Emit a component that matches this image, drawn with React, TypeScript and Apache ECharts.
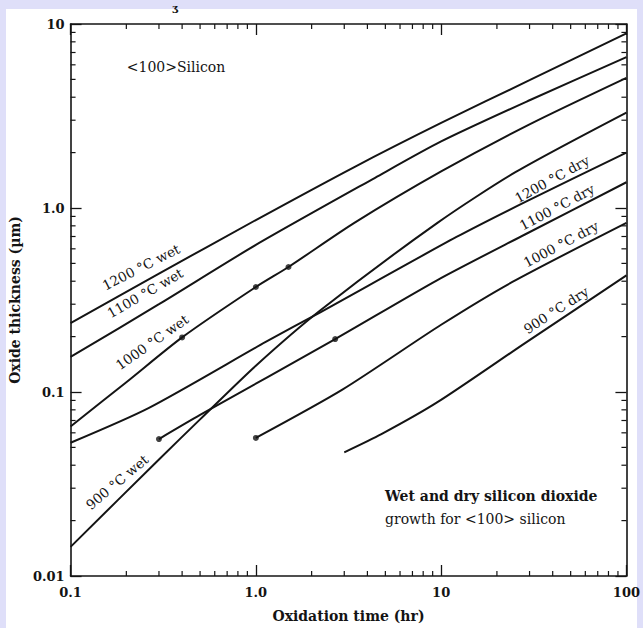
import React, { useEffect, useRef } from "react";
import * as echarts from "echarts";

// ---- Data (time in hr, oxide thickness in µm) ----
const wet1200 = [[0.1, 0.237], [0.3, 0.44], [1, 0.86], [3.4, 1.67], [10, 2.9], [30, 4.95], [100, 8.9]];
const wet1100 = [[0.1, 0.155], [0.3, 0.3], [1, 0.63], [4.4, 1.46], [10, 2.3], [30, 3.85], [100, 6.6]];
const wet1000 = [[0.1, 0.065], [0.2, 0.113], [0.4, 0.198], [1, 0.372], [1.5, 0.478], [3.4, 0.83], [10, 1.58], [30, 2.85], [100, 5.1]];
const wet900 = [[0.1, 0.0144], [0.3, 0.043], [0.5, 0.071], [1, 0.139], [2.24, 0.279], [9.55, 0.83], [25.3, 1.57], [100, 3.3]];
const dry1200 = [[0.1, 0.053], [0.265, 0.082], [1.13, 0.187], [2.24, 0.272], [12.1, 0.696], [28.5, 1.08], [100, 2.0]];
const dry1100 = [[0.3, 0.0555], [0.5, 0.075], [2.68, 0.194], [9.55, 0.406], [28.5, 0.72], [100, 1.38]];
const dry1000 = [[1, 0.0563], [2.93, 0.103], [10, 0.232], [24.1, 0.395], [100, 0.83]];
const dry900 = [[3, 0.047], [4.76, 0.059], [9.55, 0.088], [28.5, 0.185], [100, 0.43]];
const dots = [[0.4, 0.198], [1, 0.372], [1.5, 0.478], [2.68, 0.194], [1, 0.0563], [0.3, 0.0555]];

const curveNames = ["1200 °C wet", "1100 °C wet", "1000 °C wet", "900 °C wet", "1200 °C dry", "1100 °C dry", "1000 °C dry", "900 °C dry"];
const curveData = [wet1200, wet1100, wet1000, wet900, dry1200, dry1100, dry1000, dry900];

const xTickValues = [0.1, 1, 10, 100];
const xTickLabels = ["0.1", "1.0", "10", "100"];
const yTickValues = [0.01, 0.1, 1, 10];
const yTickLabels = ["0.01", "0.1", "1.0", "10"];
const minorMultipliers = [2, 3, 4, 5, 6, 7, 8, 9];

const FONT = '"DejaVu Serif", "Liberation Serif", serif';
const INK = "#141414";

function labelFor(values: number[], labels: string[], v: number) {
  const lv = Math.log10(v);
  for (let i = 0; i < values.length; i++) {
    if (Math.abs(Math.log10(values[i]) - lv) < 1e-6) return labels[i];
  }
  return "";
}

export default function App() {
  const ref = useRef<HTMLDivElement>(null);

  useEffect(() => {
    if (!ref.current) return;
    const chart = echarts.init(ref.current, null, { renderer: "svg" });

    // minor tick items: [x, y, side]  side 0 bottom, 1 top, 2 left, 3 right
    const minorItems: number[][] = [];
    for (let d = 0; d < xTickValues.length - 1; d++) {
      for (const m of minorMultipliers) {
        const v = xTickValues[d] * m;
        minorItems.push([v, 0.01, 0]);
        minorItems.push([v, 10, 1]);
      }
    }
    for (let d = 0; d < yTickValues.length - 1; d++) {
      for (const m of minorMultipliers) {
        const v = yTickValues[d] * m;
        minorItems.push([0.1, v, 2]);
        minorItems.push([100, v, 3]);
      }
    }

    const labelPlacement = [
      { x: 141, y: 267, a: 27 },
      { x: 145, y: 293, a: 30 },
      { x: 152, y: 342, a: 35 },
      { x: 117, y: 482, a: 40 },
      { x: 552, y: 179, a: 29 },
      { x: 557, y: 207, a: 28 },
      { x: 561, y: 244, a: 28 },
      { x: 556, y: 310, a: 33 },
    ];

    const axisCommon = {
      type: "log" as const,
      logBase: 10,
      splitLine: { show: false },
      axisLine: { lineStyle: { color: INK, width: 1.6 } },
      axisTick: { inside: true, length: 11, lineStyle: { color: INK, width: 1.3 } },
    };

    const option: any = {
      animation: false,
      backgroundColor: "#dfdff9",
      grid: { left: 63, right: 13, top: 24, bottom: 52 },
      xAxis: [
        {
          ...axisCommon,
          min: 0.1,
          max: 100,
          position: "bottom",
          axisLabel: {
            formatter: (v: number) => labelFor(xTickValues, xTickLabels, v),
            color: INK,
            fontFamily: FONT,
            fontSize: 13,
            fontWeight: "bold",
            margin: 10,
          },
          name: "Oxidation time (hr)",
          nameLocation: "middle",
          nameGap: 33,
          nameTextStyle: { color: INK, fontFamily: FONT, fontSize: 14, fontWeight: "bold" },
        },
        {
          ...axisCommon,
          min: 0.1,
          max: 100,
          position: "top",
          axisLabel: { show: false },
        },
      ],
      yAxis: [
        {
          ...axisCommon,
          min: 0.01,
          max: 10,
          position: "left",
          axisLabel: {
            formatter: (v: number) => labelFor(yTickValues, yTickLabels, v),
            color: INK,
            fontFamily: FONT,
            fontSize: 13,
            fontWeight: "bold",
            margin: 6,
          },
          name: "Oxide thickness (µm)",
          nameLocation: "middle",
          nameGap: 31,
          nameTextStyle: { color: INK, fontFamily: FONT, fontSize: 14, fontWeight: "bold" },
        },
        {
          ...axisCommon,
          min: 0.01,
          max: 10,
          position: "right",
          axisLabel: { show: false },
        },
      ],
      graphic: [
        {
          type: "rect",
          silent: true,
          z: -10,
          shape: { x: 6, y: 9, width: 631, height: 619 },
          style: { fill: "#ffffff" },
        },
        {
          type: "text",
          x: 176,
          y: 67,
          style: { text: "<100>Silicon", font: `14px ${FONT}`, fill: INK, align: "center", verticalAlign: "middle" },
        },
        {
          type: "text",
          x: 385,
          y: 496,
          style: { text: "Wet and dry silicon dioxide", font: `bold 14px ${FONT}`, fill: INK, align: "left", verticalAlign: "middle" },
        },
        {
          type: "text",
          x: 385,
          y: 519,
          style: { text: "growth for <100> silicon", font: `14px ${FONT}`, fill: INK, align: "left", verticalAlign: "middle" },
        },
        {
          type: "text",
          x: 175,
          y: 7,
          style: { text: "ʒ", font: `bold 10px ${FONT}`, fill: INK, align: "center", verticalAlign: "middle" },
        },
        ...curveNames.map((t, i) => ({
          type: "text",
          x: labelPlacement[i].x,
          y: labelPlacement[i].y,
          rotation: (labelPlacement[i].a * Math.PI) / 180,
          style: { text: t, font: `13.5px ${FONT}`, fill: INK, align: "center", verticalAlign: "middle" },
        })),
      ],
      series: [
        ...curveData.map((d, i) => ({
          name: curveNames[i],
          type: "line",
          xAxisIndex: 0,
          yAxisIndex: 0,
          data: d,
          showSymbol: false,
          smooth: 0.25,
          lineStyle: { color: INK, width: 2 },
          z: 3,
        })),
        {
          type: "scatter",
          xAxisIndex: 0,
          yAxisIndex: 0,
          data: dots,
          symbolSize: 6,
          itemStyle: { color: INK },
          z: 4,
        },
        {
          type: "custom",
          xAxisIndex: 0,
          yAxisIndex: 0,
          clip: false,
          silent: true,
          data: minorItems,
          renderItem: (_params: any, api: any) => {
            const p = api.coord([api.value(0), api.value(1)]);
            const side = api.value(2);
            const L = 5;
            let shape;
            if (side === 0) shape = { x1: p[0], y1: p[1], x2: p[0], y2: p[1] - L };
            else if (side === 1) shape = { x1: p[0], y1: p[1], x2: p[0], y2: p[1] + L };
            else if (side === 2) shape = { x1: p[0], y1: p[1], x2: p[0] + L, y2: p[1] };
            else shape = { x1: p[0], y1: p[1], x2: p[0] - L, y2: p[1] };
            return { type: "line", shape, style: { stroke: INK, lineWidth: 1.2 } };
          },
          z: 2,
        },
      ],
    };

    chart.setOption(option);
    return () => chart.dispose();
  }, []);

  return <div ref={ref} style={{ position: "absolute", left: 0, top: 0, width: 643, height: 628 }} />;
}
